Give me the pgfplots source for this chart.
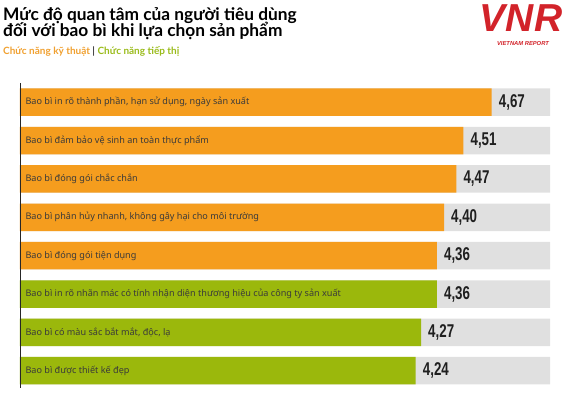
\documentclass[border=0pt]{standalone}
\usepackage{pgfplots}
\pgfplotsset{compat=1.18}
\usepackage{fontspec}
\setmainfont{Noto Sans}
\newfontfamily\titlefont{Lato}
\newfontfamily\numfont[FakeStretch=0.72]{Liberation Sans}
\newfontfamily\logofont{Liberation Sans}
\definecolor{barorange}{HTML}{F59D1E}
\definecolor{bargreen}{HTML}{9BB80C}
\definecolor{bargray}{HTML}{E0E0E0}
\definecolor{suborange}{HTML}{F0A030}
\definecolor{subgreen}{HTML}{9ABB1A}
\definecolor{labgray}{HTML}{3A3A3A}
\definecolor{vnrred}{HTML}{D2232A}
\begin{document}
\begin{tikzpicture}
\useasboundingbox (0pt,0pt) rectangle (568pt,402pt);
% title
\node[anchor=base west, inner sep=0pt, font=\titlefont\bfseries\fontsize{17.3}{18}\selectfont, text=black] at (3pt,381pt) {Mức độ quan tâm của người tiêu dùng};
\node[anchor=base west, inner sep=0pt, font=\titlefont\bfseries\fontsize{17.3}{18}\selectfont, text=black] at (3pt,365pt) {đối với bao bì khi lựa chọn sản phẩm};
\node[anchor=base west, inner sep=0pt, font=\titlefont\bfseries\fontsize{10}{10}\selectfont] at (3pt,347pt) {\textcolor{suborange}{Chức năng kỹ thuật} \textcolor{labgray}{|} \textcolor{subgreen}{Chức năng tiếp thị}};
% logo
\node[anchor=base, inner sep=0pt, font=\logofont\bfseries\itshape\fontsize{39}{39}\selectfont, text=vnrred] at (521pt,370pt) {VNR};
\node[anchor=base, inner sep=0pt, font=\logofont\bfseries\itshape\fontsize{5.8}{6}\selectfont, text=vnrred] at (523pt,356pt) {VIETNAM REPORT};
\begin{axis}[
  at={(20pt,14pt)}, anchor=south west,
  scale only axis, width=530pt, height=305pt,
  xbar, bar width=27.5pt,
  xmin=2, xmax=5,
  ymin=-0.5, ymax=7.45, y dir=reverse,
  axis x line=none,
  axis y line=left,
  y axis line style={-, draw=black!85, line width=0.8pt},
  ytick={0,1,2,3,4,5,6,7},
  major tick length=0pt,
  yticklabels={
    {Bao bì in rõ thành phần, hạn sử dụng, ngày sản xuất},
    {Bao bì đảm bảo vệ sinh an toàn thực phẩm},
    {Bao bì đóng gói chắc chắn},
    {Bao bì phân hủy nhanh, không gây hại cho môi trường},
    {Bao bì đóng gói tiện dụng},
    {Bao bì in rõ nhãn mác có tính nhận diện thương hiệu của công ty sản xuất},
    {Bao bì có màu sắc bắt mắt, độc, lạ},
    {Bao bì được thiết kế đẹp}},
  yticklabel style={anchor=west, xshift=2pt, font=\fontsize{9.1}{10}\selectfont, text=labgray},
  axis on top,
  /pgf/number format/assume math mode=true,
  clip=false,
]
\addplot[fill=bargray, draw=none, bar shift=0pt] coordinates {
  (5,0) (5,1) (5,2) (5,3) (5,4) (5,5) (5,6) (5,7)};
\addplot[fill=barorange, draw=none, bar shift=0pt,
  nodes near coords={\pgfmathprintnumber[fixed, fixed zerofill, precision=2, use comma]{\pgfplotspointmeta}},
  every node near coord/.append style={anchor=west, inner sep=0pt, xshift=7pt, font=\numfont\bfseries\fontsize{18.5}{18.5}\selectfont, text=black!88}]
  coordinates {(4.67,0) (4.51,1) (4.47,2) (4.40,3) (4.36,4)};
\addplot[fill=bargreen, draw=none, bar shift=0pt,
  nodes near coords={\pgfmathprintnumber[fixed, fixed zerofill, precision=2, use comma]{\pgfplotspointmeta}},
  every node near coord/.append style={anchor=west, inner sep=0pt, xshift=7pt, font=\numfont\bfseries\fontsize{18.5}{18.5}\selectfont, text=black!88}]
  coordinates {(4.36,5) (4.27,6) (4.24,7)};
\end{axis}
\end{tikzpicture}
\end{document}
